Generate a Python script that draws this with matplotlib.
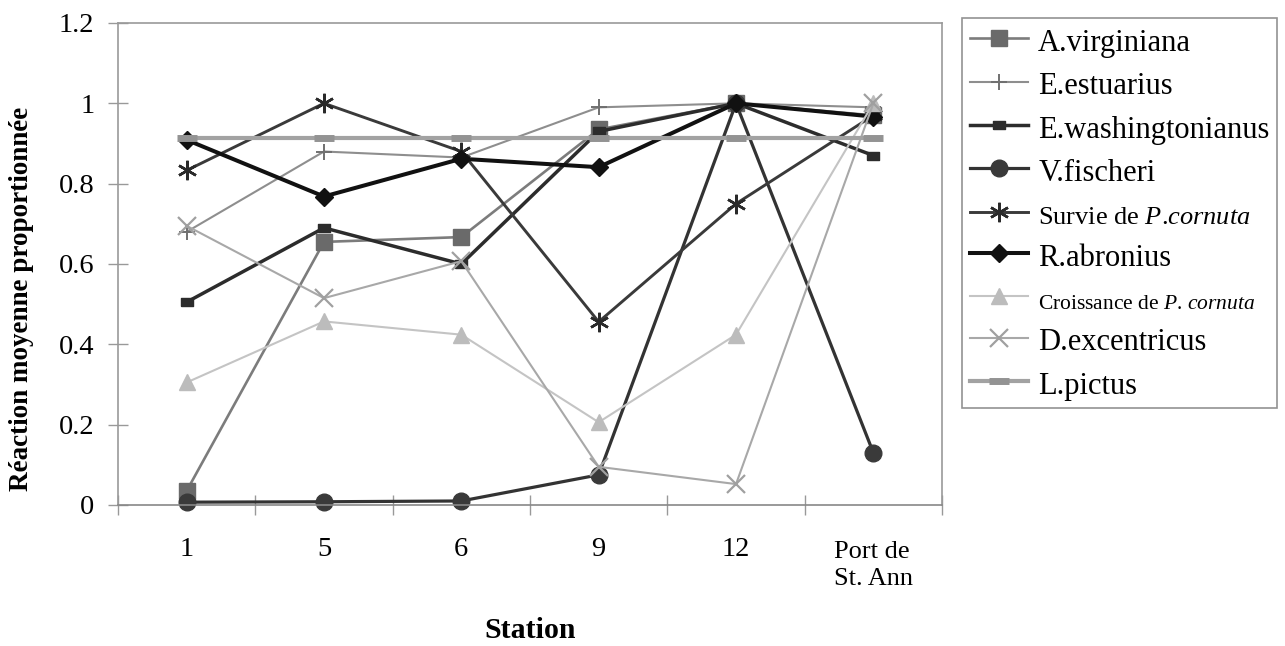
import numpy as np
import matplotlib.pyplot as plt
from matplotlib.ticker import FixedLocator, NullFormatter
from matplotlib.transforms import ScaledTranslation

plt.rcParams['font.family'] = ['Liberation Serif', 'DejaVu Serif']
plt.rcParams['mathtext.fontset'] = 'custom'
plt.rcParams['mathtext.rm'] = 'Liberation Serif'
plt.rcParams['mathtext.it'] = 'Liberation Serif:italic'

stations = ['1', '5', '6', '9', '12', 'Port de\nSt. Ann']

a_virginiana = [0.035, 0.655, 0.667, 0.935, 1.0, 0.97]
e_estuarius = [0.68, 0.88, 0.865, 0.99, 1.0, 0.99]
e_washingtonianus = [0.505, 0.69, 0.60, 0.93, 1.0, 0.87]
v_fischeri = [0.007, 0.008, 0.01, 0.075, 1.0, 0.13]
survie_pc = [0.833, 1.0, 0.88, 0.456, 0.75, 0.97]
r_abronius = [0.909, 0.768, 0.862, 0.841, 1.0, 0.967]
croissance_pc = [0.305, 0.457, 0.424, 0.206, 0.424, 1.0]
d_excentricus = [0.695, 0.515, 0.607, 0.095, 0.052, 1.0]
l_pictus = [0.913, 0.913, 0.913, 0.913, 0.913, 0.913]

rect = [(-1, -0.6), (1, -0.6), (1, 0.6), (-1, 0.6), (-1, -0.6)]

series = [
    ('A.virginiana', a_virginiana,
     dict(color='#7c7c7c', lw=1.9, marker='s', ms=11, mfc='#6a6a6a', mec='#6a6a6a')),
    ('E.estuarius', e_estuarius,
     dict(color='#8e8e8e', lw=1.5, marker='+', ms=12, mew=1.4, mec='#707070')),
    ('E.washingtonianus', e_washingtonianus,
     dict(color='#2c2c2c', lw=2.5, marker=rect, ms=9, mfc='#2c2c2c', mec='#2c2c2c')),
    ('V.fischeri', v_fischeri,
     dict(color='#333333', lw=2.3, marker='o', ms=12, mfc='#3a3a3a', mec='#3a3a3a')),
    (r'Survie de $\it{P}$.$\it{cornuta}$', survie_pc,
     dict(color='#3a3a3a', lw=2.1, marker=(6, 2, 0), ms=14, mew=1.8, mec='#2a2a2a')),
    ('R.abronius', r_abronius,
     dict(color='#111111', lw=2.9, marker='D', ms=9, mfc='#111111', mec='#111111')),
    (r'Croissance de $\it{P}$. $\it{cornuta}$', croissance_pc,
     dict(color='#c4c4c4', lw=1.5, marker='^', ms=11, mfc='#bcbcbc', mec='#bcbcbc')),
    ('D.excentricus', d_excentricus,
     dict(color='#a8a8a8', lw=1.5, marker='x', ms=13, mew=1.6, mec='#a0a0a0')),
    ('L.pictus', l_pictus,
     dict(color='#a2a2a2', lw=3.0, marker='_', ms=14, mew=5, mec='#939393')),
]

fig = plt.figure(figsize=(12.85, 6.46), dpi=100)
ax = fig.add_axes([0.0918, 0.2183, 0.6413, 0.7461])

x = np.arange(len(stations))
handles = []
for label, vals, style in series:
    h, = ax.plot(x, vals, label=label, clip_on=False, **style)
    handles.append(h)

ax.set_xlim(-0.5, len(stations) - 0.5)
ax.set_ylim(0, 1.2)

# ticks between stations, labels centred under each station
ax.xaxis.set_major_locator(FixedLocator(np.arange(-0.5, len(stations))))
ax.xaxis.set_major_formatter(NullFormatter())
ax.set_xticks(x, minor=True)
ax.set_xticklabels(stations, minor=True)
ax.tick_params(axis='x', which='minor', length=0, pad=23, labelsize=20.5)
ax.tick_params(axis='x', which='major', direction='inout', length=14, width=1, color='#999999')
for t in ax.xaxis.get_minor_ticks():
    t.label1.set_verticalalignment('top')
lab = ax.xaxis.get_minor_ticks()[-1].label1
lab.set_fontsize(19)
lab.set_multialignment('left')
lab.set_linespacing(1.3)
lab.set_transform(lab.get_transform() + ScaledTranslation(0, -0.04, fig.dpi_scale_trans))

ax.set_yticks(np.arange(0, 1.21, 0.2))
ax.set_yticklabels(['0', '0.2', '0.4', '0.6', '0.8', '1', '1.2'])
ax.tick_params(axis='y', direction='inout', length=14, width=1, color='#999999',
               pad=10, labelsize=20.5)

for s in ax.spines.values():
    s.set_color('#999999')
    s.set_linewidth(1.2)
ax.spines['bottom'].set_color('#888888')

ax.set_ylabel('Réaction moyenne proportionnée', fontsize=19.5, fontweight='bold')
ax.yaxis.set_label_coords(-0.102, 0.427)
fig.text(0.4125, 0.003, 'Station', fontsize=21.5, fontweight='bold',
         ha='center', va='bottom')

leg = fig.legend(handles=handles, loc='upper left', bbox_to_anchor=(0.749, 0.972),
                 borderaxespad=0, fontsize=22, frameon=True, fancybox=False,
                 handlelength=1.9, handleheight=1.1, handletextpad=0.33,
                 labelspacing=0.37, borderpad=0.25)
leg.get_frame().set_edgecolor('#777777')
leg.get_frame().set_linewidth(1.2)
leg.get_texts()[4].set_fontsize(19)
leg.get_texts()[6].set_fontsize(15.5)

fig.savefig('out.png', dpi=100)
